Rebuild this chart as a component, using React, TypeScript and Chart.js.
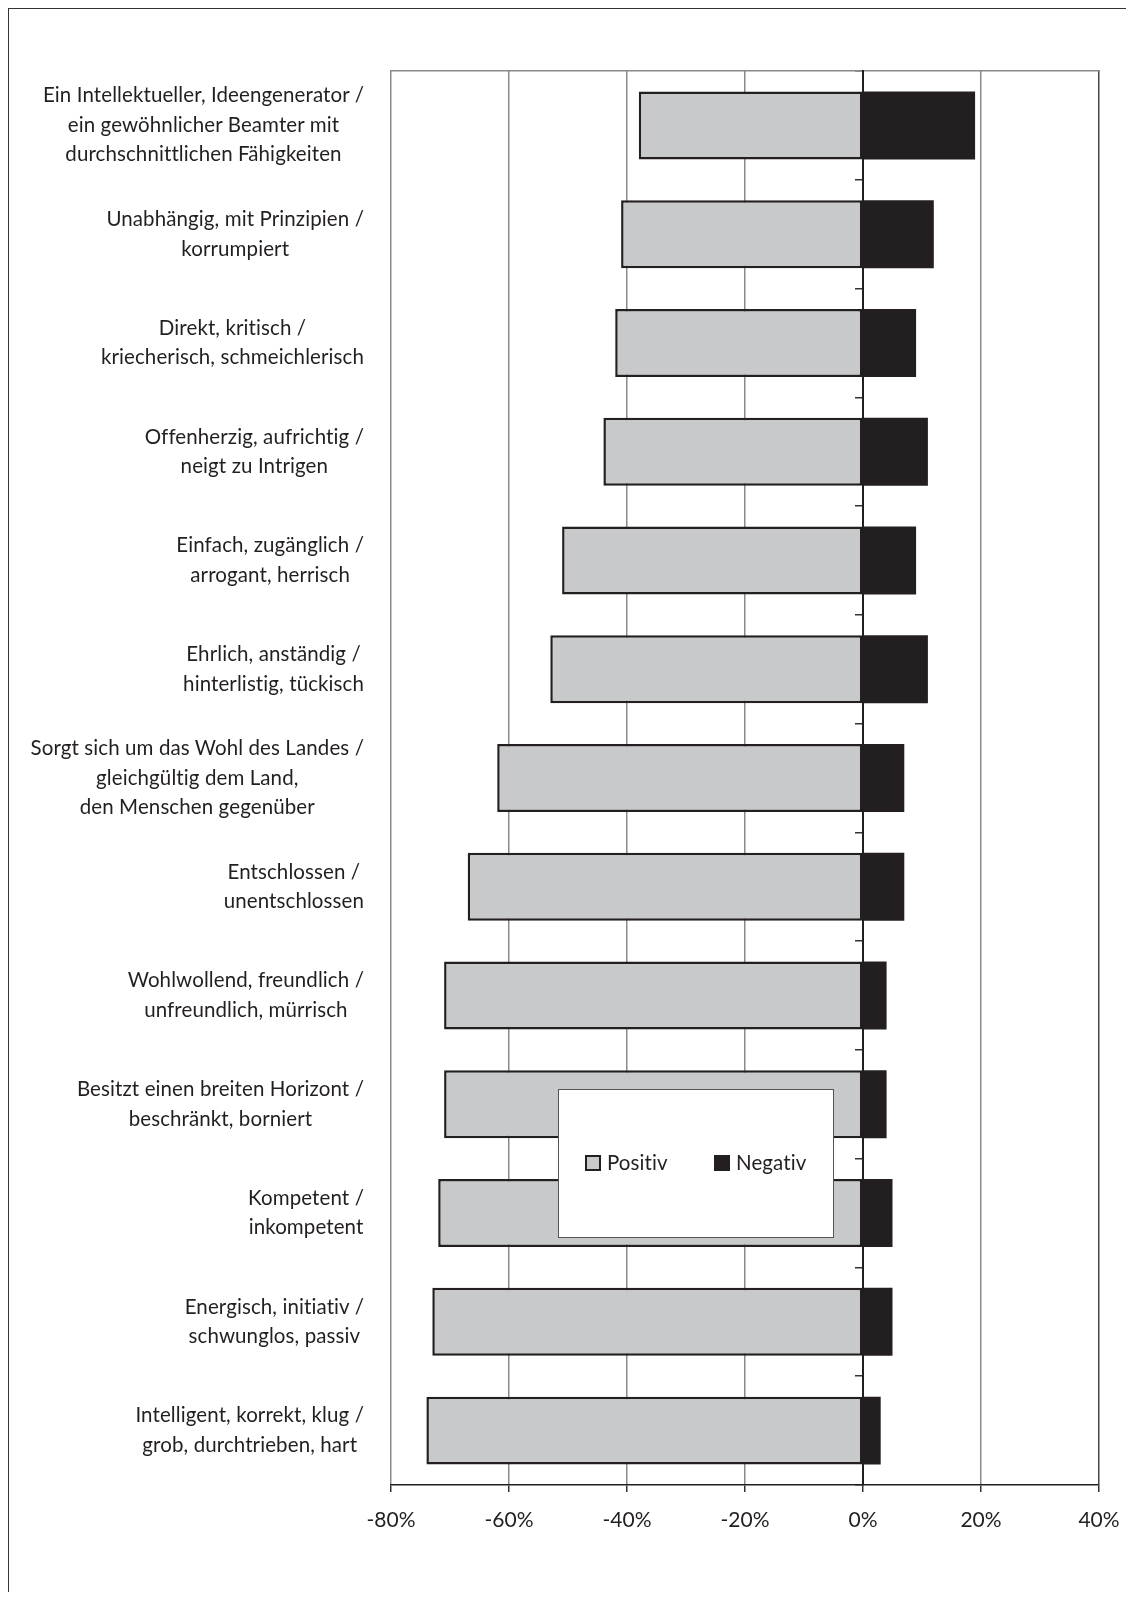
import React, { useEffect, useRef } from 'react';
import { Chart, registerables } from 'chart.js';

Chart.register(...registerables);

const categories: string[][] = [
  ['Ein Intellektueller, Ideengenerator /', 'ein gewöhnlicher Beamter mit', 'durchschnittlichen Fähigkeiten'],
  ['Unabhängig, mit Prinzipien /', 'korrumpiert'],
  ['Direkt, kritisch /', 'kriecherisch, schmeichlerisch'],
  ['Offenherzig, aufrichtig /', 'neigt zu Intrigen'],
  ['Einfach, zugänglich /', 'arrogant, herrisch'],
  ['Ehrlich, anständig /', 'hinterlistig, tückisch'],
  ['Sorgt sich um das Wohl des Landes /', 'gleichgültig dem Land,', 'den Menschen gegenüber'],
  ['Entschlossen /', 'unentschlossen'],
  ['Wohlwollend, freundlich /', 'unfreundlich, mürrisch'],
  ['Besitzt einen breiten Horizont /', 'beschränkt, borniert'],
  ['Kompetent /', 'inkompetent'],
  ['Energisch, initiativ /', 'schwunglos, passiv'],
  ['Intelligent, korrekt, klug /', 'grob, durchtrieben, hart'],
];

const positiv: number[] = [-38, -41, -42, -44, -51, -53, -62, -67, -71, -71, -72, -73, -74];
const negativ: number[] = [19, 12, 9, 11, 9, 11, 7, 7, 4, 4, 5, 5, 3];

const seriesNames: string[] = ['Positiv', 'Negativ'];
const xMin = -80;
const xMax = 40;
const xStep = 20;

const TEXT = '#231f20';
const GRAY_FILL = '#c8c9cb';
const DARK = '#231f20';
const GRID = '#8a8a8a';
const FONT = 'Lato';
const FS = 20.5;
const LH = 29.5;

const W = 1118;
const H = 1584;

function setupText(ctx: CanvasRenderingContext2D) {
  ctx.font = `${FS}px ${FONT}`;
  try {
    (ctx as any).letterSpacing = '0.1px';
    (ctx as any).fontKerning = 'normal';
  } catch (e) {
    /* ignore */
  }
}

const catLabelPlugin = {
  id: 'catLabels',
  afterDraw(chart: any) {
    const ys = chart.scales.y;
    const ctx = chart.ctx as CanvasRenderingContext2D;
    ctx.save();
    setupText(ctx);
    ctx.fillStyle = TEXT;
    ctx.textAlign = 'center';
    ctx.textBaseline = 'middle';
    const right = chart.chartArea.left - 27;
    categories.forEach((lines, i) => {
      const yc = ys.getPixelForValue(i);
      const w = Math.max(...lines.map((l) => ctx.measureText(l).width));
      const cx = right - w / 2;
      lines.forEach((l, j) => {
        ctx.fillText(l, cx, yc + (j - (lines.length - 1) / 2) * LH);
      });
    });
    ctx.restore();
  },
};

const legendPlugin = {
  id: 'boxLegend',
  afterDraw(chart: any) {
    const ctx = chart.ctx as CanvasRenderingContext2D;
    const ca = chart.chartArea;
    const bx = ca.left + 167;
    const by = ca.top + 1018;
    const bw = 275;
    const bh = 148;
    ctx.save();
    ctx.fillStyle = '#ffffff';
    ctx.fillRect(bx, by, bw, bh);
    ctx.strokeStyle = '#555555';
    ctx.lineWidth = 1;
    ctx.strokeRect(bx + 0.5, by + 0.5, bw, bh);
    const cy = by + 74;
    const offsets = [27, 156];
    setupText(ctx);
    ctx.textAlign = 'left';
    ctx.textBaseline = 'middle';
    chart.data.datasets.forEach((ds: any, i: number) => {
      const sx = bx + offsets[i];
      ctx.fillStyle = ds.backgroundColor;
      ctx.fillRect(sx, cy - 8, 16, 16);
      if (ds.borderWidth) {
        ctx.strokeStyle = ds.borderColor;
        ctx.lineWidth = 2;
        ctx.strokeRect(sx + 1, cy - 7, 14, 14);
      }
      ctx.fillStyle = TEXT;
      ctx.fillText(ds.label, sx + 22, cy);
    });
    ctx.restore();
  },
};

export default function App() {
  const ref = useRef<HTMLCanvasElement | null>(null);

  useEffect(() => {
    if (!ref.current) return;
    const chart = new Chart(ref.current, {
      type: 'bar',
      data: {
        labels: categories.map((c) => c.join(' ')),
        datasets: [
          {
            label: seriesNames[0],
            data: positiv,
            backgroundColor: GRAY_FILL,
            borderColor: DARK,
            borderWidth: 2.5,
            borderSkipped: false,
          },
          {
            label: seriesNames[1],
            data: negativ,
            backgroundColor: DARK,
            borderColor: DARK,
            borderWidth: 0,
          },
        ],
      },
      options: {
        indexAxis: 'y',
        responsive: false,
        animation: false,
        devicePixelRatio: 1,
        datasets: { bar: { barPercentage: 0.625, categoryPercentage: 1 } },
        layout: { padding: { left: 383, top: 63, right: 27, bottom: 0 } },
        plugins: { legend: { display: false }, tooltip: { enabled: false } },
        scales: {
          x: {
            type: 'linear',
            position: 'bottom',
            stacked: true,
            min: xMin,
            max: xMax,
            ticks: {
              stepSize: xStep,
              color: TEXT,
              font: { family: FONT, size: 21 },
              padding: 16,
              maxRotation: 0,
              callback: (v: any) => `${v}%`,
            },
            grid: {
              color: (c: any) => (c.tick && c.tick.value === xMax ? '#444444' : GRID),
              lineWidth: 1.5,
              tickColor: '#333333',
              tickLength: 7,
              drawTicks: true,
            },
            border: { display: true, color: DARK, width: 1.5 },
            afterFit: (s: any) => {
              s.height = 107;
              s.paddingLeft = 0;
              s.paddingRight = 0;
            },
          },
          x2: {
            type: 'linear',
            position: 'top',
            min: xMin,
            max: xMax,
            display: true,
            ticks: { display: false },
            grid: { display: false, drawTicks: false },
            border: { display: true, color: GRID, width: 1.5 },
            afterFit: (s: any) => {
              s.height = 0;
              s.paddingLeft = 0;
              s.paddingRight = 0;
            },
          },
          y: {
            type: 'category',
            position: { x: 0 } as any,
            stacked: true,
            offset: true,
            ticks: { display: false },
            grid: {
              offset: true,
              drawOnChartArea: false,
              drawTicks: true,
              tickLength: 7,
              tickColor: '#333333',
              lineWidth: 1.5,
            },
            border: { display: true, color: DARK, width: 2 },
            afterFit: (s: any) => {
              s.width = 0;
              s.paddingTop = 0;
              s.paddingBottom = 0;
            },
          },
        },
      },
      plugins: [catLabelPlugin, legendPlugin],
    } as any);
    return () => chart.destroy();
  }, []);

  return (
    <div style={{ position: 'relative', width: W, height: H }}>
      <div
        style={{
          position: 'absolute',
          left: 0,
          top: 0,
          width: W,
          height: H,
          borderLeft: '1px solid #333',
          borderTop: '1px solid #333',
          boxSizing: 'border-box',
        }}
      />
      <canvas
        ref={ref}
        width={W}
        height={H}
        style={{ position: 'absolute', left: 0, top: 0, width: W, height: H }}
      />
    </div>
  );
}
